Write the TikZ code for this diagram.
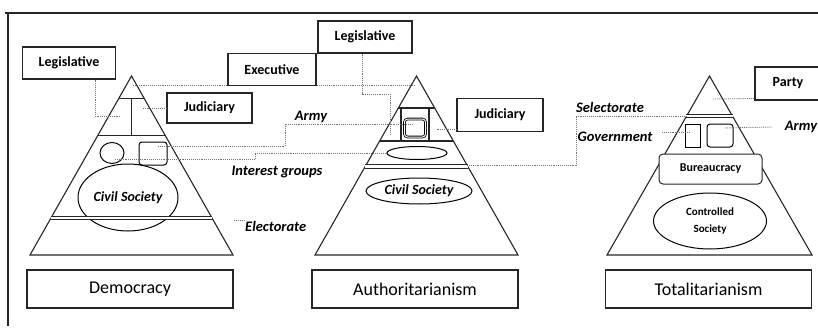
\documentclass[tikz,border=0pt]{standalone}
\usepackage{fontspec}
\setmainfont{Carlito}
\usetikzlibrary{positioning,calc,shapes.geometric}

\tikzset{
  frame/.style={draw=black!85, line width=1.1pt},
  branch/.style={draw=black!85, fill=white, line width=1.1pt, inner sep=0pt, font=\bfseries\fontsize{14}{16}\selectfont},
  regime/.style={draw=black!85, line width=1.1pt, minimum width=206pt, minimum height=38pt, font=\fontsize{18}{20}\selectfont},
  link/.style={draw=black!55, densely dotted, line width=0.9pt},
  tag/.style={inner sep=1pt, font=\bfseries\itshape\fontsize{14.5}{16}\selectfont},
  tier/.style={draw=black!85, line width=1pt, double, double distance=2pt},
}

\begin{document}
\begin{tikzpicture}[x=1pt,y=-1pt]
\useasboundingbox (0,0) rectangle (818,329);

% page frame
\draw[frame,line width=1.5pt] (5,13) -- (818,13);
\draw[frame] (8,13) -- (8,326);

% three pyramids
\coordinate (dA) at (131.5,76);  \coordinate (dL) at (30,255);  \coordinate (dR) at (233,255);
\coordinate (aA) at (416.5,76);  \coordinate (aL) at (315,255); \coordinate (aR) at (518,255);
\coordinate (tA) at (709.5,76);  \coordinate (tL) at (607,255); \coordinate (tR) at (812,255);
\draw[frame] (dA) -- (dL) -- (dR) -- cycle;
\draw[frame] (aA) -- (aL) -- (aR) -- cycle;
\draw[frame] (tA) -- (tL) -- (tR) -- cycle;

% democracy
\draw[frame] ($(dA)!0.128!(dL)$) -- ($(dA)!0.128!(dR)$);
\draw[frame] ($(dA)!0.33!(dL)$) -- ($(dA)!0.33!(dR)$);
\draw[frame, line width=1.4pt] (131.5,99) -- (131.5,135);
\node[draw, line width=1pt, ellipse, minimum width=24pt, minimum height=21pt] (dIg) at (112,153) {};
\node[draw, line width=1pt, rounded corners=3pt, minimum width=28pt, minimum height=23pt] (dArmy) at (153,153.5) {};
\node[draw, line width=1pt, ellipse, minimum width=100pt, minimum height=67pt, inner sep=0pt, font=\bfseries\itshape\fontsize{14}{16}\selectfont] (dCivil) at (128,197.5) {Civil Society};
\draw[tier] ($(dA)!0.793!(dL)$) -- ($(dA)!0.793!(dR)$);

% authoritarianism
\draw[frame] ($(aA)!0.179!(aL)$) -- ($(aA)!0.179!(aR)$);
\draw[frame] ($(aA)!0.363!(aL)$) -- ($(aA)!0.363!(aR)$);
\draw[frame] (401,108) -- (401,141);
\draw[frame] (429,108) -- (429,141);
\node[draw, line width=0.8pt, double, double distance=1pt, rounded corners=3pt, minimum width=21pt, minimum height=18pt] (aArmy) at (415,128) {};
\node[draw, line width=1pt, ellipse, minimum width=60pt, minimum height=13pt] (aIg) at (417,153) {};
\draw[tier, double distance=2.5pt] ($(aA)!0.506!(aL)$) -- ($(aA)!0.506!(aR)$);
\node[draw, line width=1pt, ellipse, minimum width=106pt, minimum height=26pt, inner sep=0pt, font=\bfseries\itshape\fontsize{14}{16}\selectfont] (aCivil) at (419,191) {Civil Society};

% totalitarianism
\draw[tier] ($(tA)!0.226!(tL)$) -- ($(tA)!0.226!(tR)$);
\node[draw, line width=1pt, minimum width=15pt, minimum height=23pt] (tGov) at (692.5,135.5) {};
\node[draw, line width=1pt, rounded corners=3pt, minimum width=26pt, minimum height=23pt] (tArmy) at (720,135.5) {};
\node[branch, line width=1pt, rounded corners=4pt, minimum width=103pt, minimum height=30pt, font=\bfseries\fontsize{12}{14}\selectfont] (bureau) at (710.5,169) {Bureaucracy};
\node[draw, line width=1pt, ellipse, minimum width=113pt, minimum height=56pt, inner sep=0pt, align=center, font=\bfseries\fontsize{11}{17}\selectfont] (tSoc) at (710,221) {Controlled\\Society};

% regime names
\node[regime] (dem) at (130,289) {Democracy};
\node[regime] (aut) at (415,289) {Authoritarianism};
\node[regime] (tot) at (708.5,289) {Totalitarianism};

% ends of the connectors
\coordinate (dLegEnd) at (121,116);
\coordinate (dExeEnd) at (133,85);
\coordinate (aExeEnd) at (416,85);
\coordinate (dJudEnd) at (143,108);
\coordinate (dArmyEnd) at (158,146);
\coordinate (aArmyEnd) at (413,124);
\coordinate (dIgEnd) at (115,159);
\coordinate (dElEnd) at (234,220);
\coordinate (aLegEnd) at (390,135);
\coordinate (aJudEnd) at (437,129);
\coordinate (aSelEnd) at (467,165);
\coordinate (tSelEnd) at (686,116);
\coordinate (tGovStart) at (662,132);
\coordinate (tGovEnd) at (690,132);
\coordinate (tArmyEnd) at (725,128);
\coordinate (tPartyEnd) at (713,99);

\draw[link] (dExeEnd) -- (aExeEnd);

% branch boxes
\node[branch, minimum width=93pt, minimum height=32pt] (legD) at (69,63) {Legislative};
\node[branch, minimum width=88pt, minimum height=32pt] (exe) at (272,69.5) {Executive};
\node[branch, minimum width=94pt, minimum height=32pt] (legA) at (365,37) {Legislative};
\node[branch, minimum width=85pt, minimum height=30pt] (judD) at (209.5,108) {Judiciary};
\node[branch, minimum width=86pt, minimum height=33pt] (judA) at (500,115) {Judiciary};
\node[branch, minimum width=66pt, minimum height=33pt] (party) at (788,83.5) {Party};

% labels
\node[tag] (armyL) at (311,117) {Army};
\node[tag] (igL) at (277,172) {Interest groups};
\node[tag, anchor=west] (elL) at (244,226) {Electorate};
\node[tag] (selL) at (610,107) {Selectorate};
\node[tag] (govL) at (615,137) {Government};
\node[tag] (armyT) at (801,127) {Army};

% connectors
\draw[link] ([xshift=26pt]legD.south) |- (dLegEnd);
\draw[link] (judD.west) -- (dJudEnd);
\draw[link] (dArmyEnd) -| (285,124) -- (aArmyEnd);
\draw[link] (dIgEnd) -| (255,153) -- (aIg.west);
\draw[link] (dElEnd) -- (elL.west |- dElEnd);
\draw[link] ([xshift=-3pt]legA.south) |- (390,94) -- (aLegEnd);
\draw[link] ([yshift=-14pt]judA.west) -- (aJudEnd);
\draw[link] (aSelEnd) -| (576,116) -- (tSelEnd);
\draw[link] (tGovStart) -- (tGovEnd);
\draw[link] (tArmyEnd) -- (armyT.west -| 772,0);
\draw[link] (tPartyEnd) -- ([yshift=-15pt]party.west);
\end{tikzpicture}
\end{document}
